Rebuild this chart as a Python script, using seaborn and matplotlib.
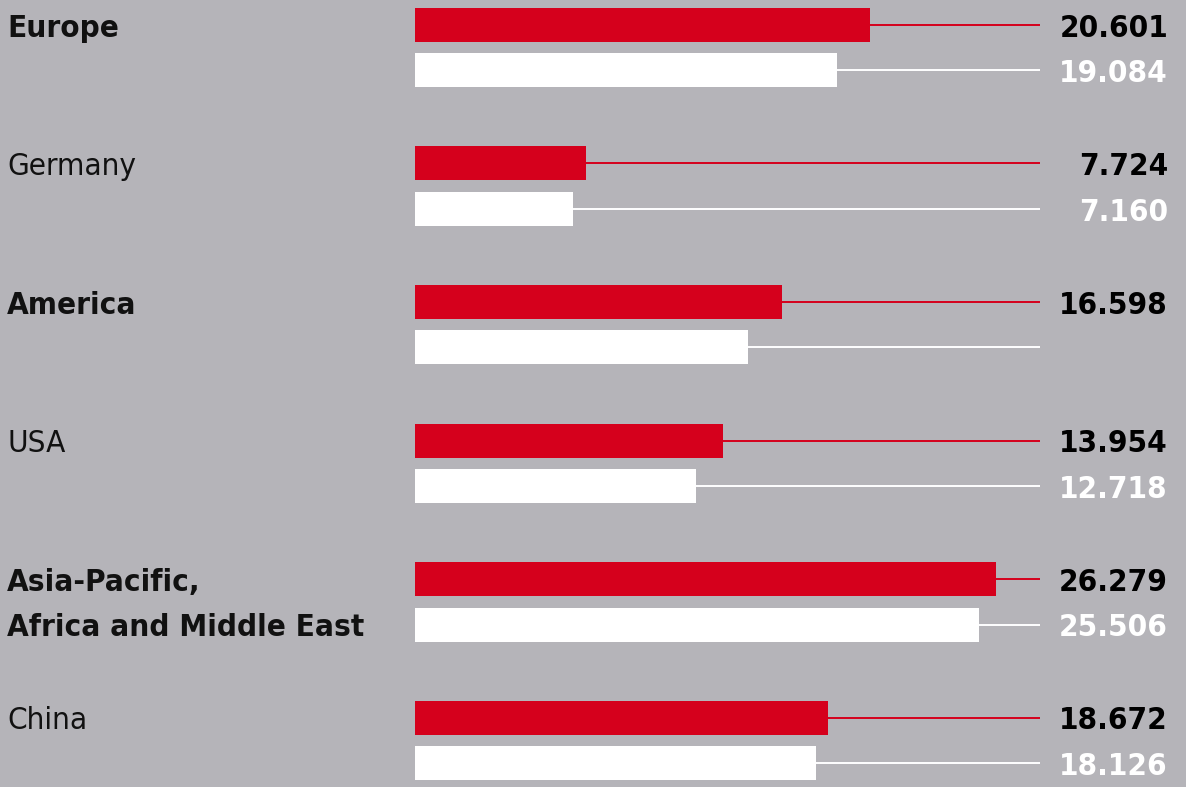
import pandas as pd
import matplotlib.pyplot as plt
import matplotlib.transforms as mtransforms
import seaborn as sns

# Values in thousands, current year vs previous year
regions = ["Europe", "Germany", "America", "USA", "Asia-Pacific,\nAfrica and Middle East", "China"]
current = [20.601, 7.724, 16.598, 13.954, 26.279, 18.672]
previous = [19.084, 7.160, 15.07, 12.718, 25.506, 18.126]
current_labels = ["20.601", "7.724", "16.598", "13.954", "26.279", "18.672"]
previous_labels = ["19.084", "7.160", "", "12.718", "25.506", "18.126"]
is_total = [True, False, True, False, True, False]

BG = "#b5b4b9"
RED = "#d5001c"
WHITE = "#ffffff"
FONT = ["DejaVu Sans"]
FS = 22.5
BASE = 0.085  # shift from bar centre to text baseline (data units)


def main():
    sns.set_style("white")
    plt.rcParams["font.family"] = FONT
    plt.rcParams["font.stretch"] = "condensed"

    df = pd.DataFrame({
        "region": regions * 2,
        "value": current + previous,
        "year": ["current"] * len(regions) + ["previous"] * len(regions),
    })

    fig = plt.figure(figsize=(11.86, 7.87), dpi=100, facecolor=BG)
    ax = fig.add_axes([415 / 1186, 0, 625 / 1186, 1])
    ax.set_facecolor(BG)

    sns.barplot(data=df, y="region", x="value", hue="year", orient="h",
                palette=[RED, WHITE], width=0.657, gap=0.253, saturation=1,
                linewidth=0, legend=False, ax=ax)

    xmax = 28.28
    ax.set_xlim(0, xmax)
    ax.set_ylim(5.336, -0.343)
    ax.axis("off")

    trans = mtransforms.blended_transform_factory(ax.transAxes, ax.transData)
    styles = [(RED, "black", current_labels), (WHITE, WHITE, previous_labels)]
    for container, (line_c, text_c, labels) in zip(ax.containers, styles):
        for bar, lab in zip(container.patches, labels):
            y = bar.get_y() + bar.get_height() / 2
            ax.hlines(y, bar.get_width(), xmax, color=line_c, lw=1.4)
            if lab:
                ax.text(1.2048, y + BASE, lab, transform=trans, ha="right",
                        va="baseline", fontsize=FS, fontweight="bold",
                        fontstretch="condensed", color=text_c, clip_on=False)

    # region names on the left, one line per bar of the pair
    ltrans = mtransforms.blended_transform_factory(fig.transFigure, ax.transData)
    for i, (name, bold) in enumerate(zip(regions, is_total)):
        for k, line in enumerate(name.split("\n")):
            bar = ax.containers[k].patches[i]
            y = bar.get_y() + bar.get_height() / 2
            ax.text(7 / 1186, y + BASE, line, transform=ltrans, ha="left",
                    va="baseline", fontsize=FS,
                    fontweight="bold" if bold else "normal",
                    fontstretch="condensed", color="#111111", clip_on=False)

    fig.savefig("out.png", dpi=100, facecolor=BG)


if __name__ == "__main__":
    main()
